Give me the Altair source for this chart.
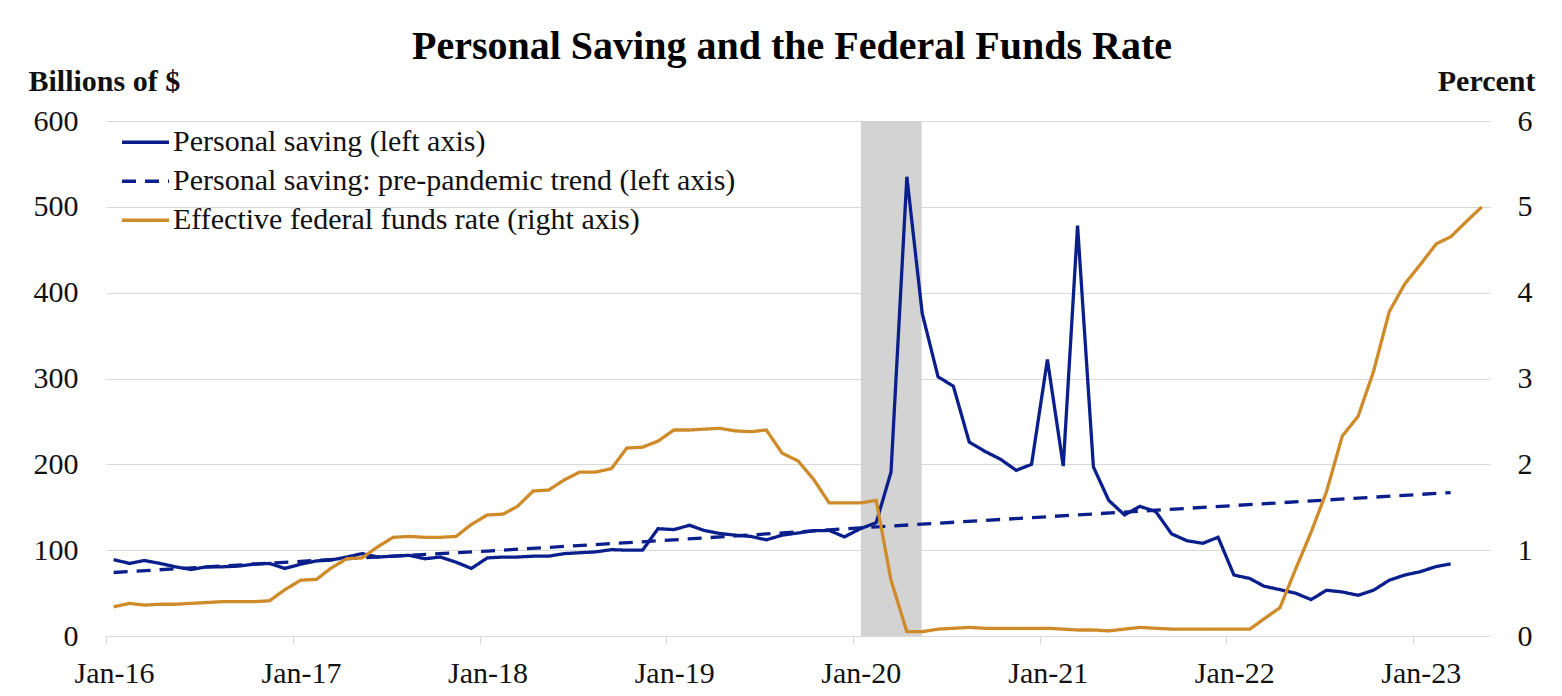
import altair as alt
import pandas as pd

# ---------------- data ----------------
S1 = "Personal saving (left axis)"
S2 = "Personal saving: pre-pandemic trend (left axis)"
S3 = "Effective federal funds rate (right axis)"

# Personal saving, billions of $, monthly Jan-16 .. Mar-23
saving = [
    89, 84.5, 88, 84.5, 80.6, 77.5, 80.6, 80.6, 81.4, 83.7, 84.5, 78.7,      # 2016
    83.7, 87.5, 88.4, 92, 96, 92, 93, 94, 90, 92, 86, 78.7,                   # 2017
    91, 92, 92, 93, 93, 96, 97, 98, 100.6, 100, 100, 125,                     # 2018
    124, 129, 123, 119.4, 117.5, 116, 112, 117.5, 120, 122.6, 123, 115.5,     # 2019
    125, 132, 191, 535, 376, 302, 291, 226, 215, 206, 193, 200,               # 2020
    322, 198, 478, 197, 158, 141, 151, 145, 119, 111, 108, 115,               # 2021
    71, 67, 58, 54, 50, 42.4, 53.3, 51.3, 47.4, 53.3, 65, 71,                 # 2022
    75, 81, 84,                                                               # 2023
]

# Effective federal funds rate, percent, monthly Jan-16 .. May-23
fed_funds = [
    0.34, 0.38, 0.36, 0.37, 0.37, 0.38, 0.39, 0.40, 0.40, 0.40, 0.41, 0.54,
    0.65, 0.66, 0.79, 0.90, 0.91, 1.04, 1.15, 1.16, 1.15, 1.15, 1.16, 1.30,
    1.41, 1.42, 1.51, 1.69, 1.70, 1.82, 1.91, 1.91, 1.95, 2.19, 2.20, 2.27,
    2.40, 2.40, 2.41, 2.42, 2.39, 2.38, 2.40, 2.13, 2.04, 1.83, 1.55, 1.55,
    1.55, 1.58, 0.65, 0.05, 0.05, 0.08, 0.09, 0.10, 0.09, 0.09, 0.09, 0.09,
    0.09, 0.08, 0.07, 0.07, 0.06, 0.08, 0.10, 0.09, 0.08, 0.08, 0.08, 0.08,
    0.08, 0.08, 0.20, 0.33, 0.77, 1.21, 1.68, 2.33, 2.56, 3.08, 3.78, 4.10,
    4.33, 4.57, 4.65, 4.83, 5.00,
]

# Pre-pandemic trend (dashed), read at a few points along the straight line
trend_dates = ["2016-01-16", "2017-01-16", "2018-01-16", "2019-01-16", "2020-01-16",
               "2021-01-16", "2022-01-16", "2023-01-16", "2023-03-16"]
trend_values = [74, 87, 99, 112, 126, 139, 152, 165, 167]

# Shaded recession band
recession_start = ["2020-01-17"]
recession_end = ["2020-05-15"]

year_ticks = [2016, 2017, 2018, 2019, 2020, 2021, 2022, 2023]


def month_dates(n, y=2016, m=1):
    out = []
    for _ in range(n):
        out.append(f"{y}-{m:02d}-16")
        m += 1
        if m > 12:
            m, y = 1, y + 1
    return out


df_left = pd.concat([
    pd.DataFrame({"date": month_dates(len(saving)), "value": saving, "series": S1}),
    pd.DataFrame({"date": trend_dates, "value": trend_values, "series": S2}),
], ignore_index=True)
df_right = pd.DataFrame({"date": month_dates(len(fed_funds)), "value": fed_funds, "series": S3})
df_rec = pd.DataFrame({"start": recession_start, "end": recession_end})

# ---------------- styling ----------------
FONT = "Liberation Serif"
NAVY = "#0b1f8c"
ORANGE = "#cf8a2a"
GRID = "#d9d9d9"
TXT = "#111111"

x_scale = alt.Scale(
    type="utc",
    domain=[alt.DateTime(year=2016, month=1, date=1, utc=True),
            alt.DateTime(year=2023, month=6, date=1, utc=True)],
)
x_axis = alt.Axis(
    values=[alt.DateTime(year=y, month=1, date=1, utc=True) for y in year_ticks],
    labelExpr="utcFormat(datum.value, '%b-%y')", title=None, grid=False,
    domain=True, domainColor=GRID, domainWidth=1.2,
    ticks=True, tickColor=GRID, tickSize=8, tickWidth=1.2,
    labelOffset=8, labelFlush=False, labelPadding=14,
    labelFont=FONT, labelFontSize=30, labelColor=TXT,
)
xenc_rect = alt.X("start:T", scale=x_scale, axis=x_axis)
xenc = alt.X("date:T", scale=x_scale, axis=x_axis)

domain_series = [S1, S2, S3]
color_enc = alt.Color("series:N", scale=alt.Scale(domain=domain_series, range=[NAVY, NAVY, ORANGE]),
                      legend=alt.Legend(title=None))
dash_enc = alt.StrokeDash("series:N", scale=alt.Scale(domain=domain_series, range=[[1, 0], [14, 9], [1, 0]]),
                          legend=alt.Legend(title=None))

left_axis = alt.Axis(
    values=[0, 100, 200, 300, 400, 500, 600], orient="left",
    grid=True, gridColor=GRID, gridWidth=1.2, domain=False, ticks=False,
    labelPadding=28, labelFont=FONT, labelFontSize=30, labelColor=TXT,
    title="Billions of $", titleAngle=0, titleX=-78, titleY=-31,
    titleAlign="left", titleBaseline="alphabetic",
    titleFont=FONT, titleFontSize=30, titleFontWeight="bold", titleColor=TXT,
)
right_axis = alt.Axis(
    values=[0, 1, 2, 3, 4, 5, 6], orient="right",
    grid=False, domain=False, ticks=False,
    labelPadding=27, labelFont=FONT, labelFontSize=30, labelColor=TXT,
    title="Percent", titleAngle=0, titleX=45, titleY=-31,
    titleAlign="right", titleBaseline="alphabetic",
    titleFont=FONT, titleFontSize=30, titleFontWeight="bold", titleColor=TXT,
)

rect = alt.Chart(df_rec).mark_rect(color="#d3d3d3").encode(
    x=xenc_rect, x2="end:T"
)

left = alt.Chart(df_left).mark_line(strokeWidth=3.3).encode(
    x=xenc,
    y=alt.Y("value:Q", scale=alt.Scale(domain=[0, 600]), axis=left_axis),
    color=color_enc,
    strokeDash=dash_enc,
)

right = alt.Chart(df_right).mark_line(strokeWidth=3.3).encode(
    x=xenc,
    y=alt.Y("value:Q", scale=alt.Scale(domain=[0, 6]), axis=right_axis),
    color=color_enc,
    strokeDash=dash_enc,
)

chart = alt.layer(rect, left, right).resolve_scale(
    y="independent"
).properties(
    width=1384,
    height=515,
    title=alt.TitleParams(
        text="Personal Saving and the Federal Funds Rate",
        font=FONT, fontSize=40, fontWeight="bold", color="#000000",
        anchor="middle", frame="group", offset=10, baseline="alphabetic",
        dx=-6, dy=43,
    ),
    autosize=alt.AutoSizeParams(type="none"),
    padding={"left": 98, "top": 113, "right": 56, "bottom": 52},
    background="white",
).configure_view(
    stroke=None
).configure_legend(
    orient="none", legendX=14, legendY=2,
    symbolType="stroke", symbolSize=2209, symbolStrokeWidth=3.5,
    labelFont=FONT, labelFontSize=30, labelColor=TXT, labelOffset=2,
    labelLimit=1000, rowPadding=0, clipHeight=38.5, padding=0,
)

chart.save("out.html", embed_options={"renderer": "svg", "actions": False})
